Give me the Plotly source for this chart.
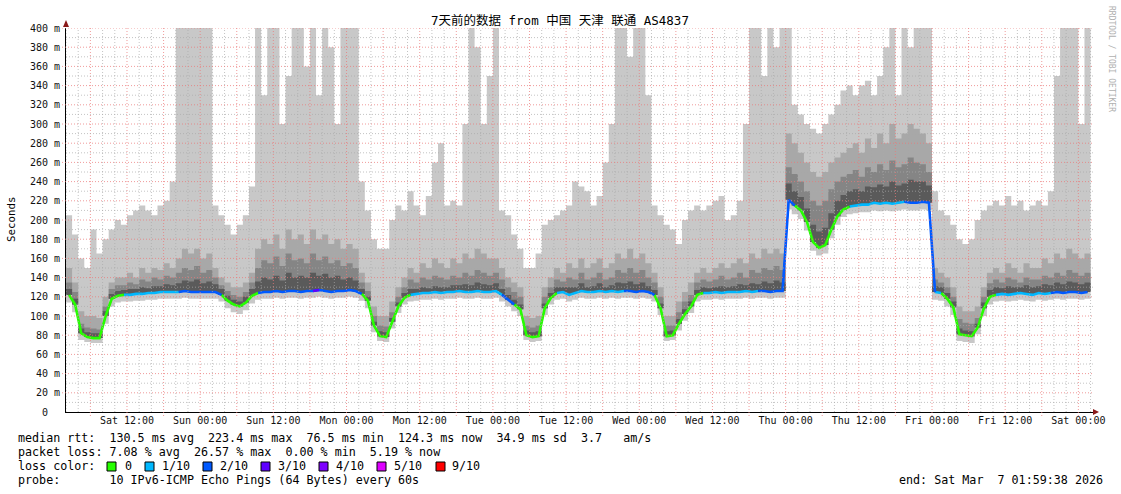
import plotly.graph_objects as go

# ---------------- data (hourly, starting Sat Feb 28 02:00) ----------------
hours = list(range(168))

median_rtt = [
    122, 112, 82, 78, 77, 77, 100, 118, 121, 122,
    122, 123, 123, 124, 124, 125, 125, 125, 125, 126,
    125, 125, 125, 125, 125, 122, 116, 112, 110, 114,
    121, 124, 125, 125, 126, 125, 126, 126, 125, 126,
    126, 127, 126, 125, 126, 126, 127, 126, 123, 116,
    90, 79, 78, 94, 110, 119, 122, 123, 124, 124,
    125, 124, 125, 125, 126, 125, 125, 126, 125, 125,
    126, 122, 117, 112, 107, 80, 78, 79, 108, 119,
    124, 125, 122, 124, 126, 125, 125, 126, 125, 126,
    125, 126, 126, 125, 126, 125, 122, 108, 79, 80,
    92, 102, 110, 122, 124, 124, 125, 124, 125, 125,
    125, 126, 125, 126, 126, 125, 126, 126, 221, 215,
    210, 198, 177, 171, 174, 190, 204, 211, 214, 215,
    216, 216, 218, 217, 218, 217, 218, 219, 218, 218,
    219, 218, 125, 124, 118, 109, 81, 80, 79, 88,
    108, 120, 122, 123, 122, 123, 124, 123, 122, 124,
    123, 124, 125, 124, 125, 125, 124, 125,
]

rtt_min = [
    114, 104, 75, 73, 72, 72, 92, 110, 114, 115,
    115, 116, 116, 117, 117, 118, 118, 118, 118, 119,
    118, 118, 118, 118, 118, 115, 108, 104, 102, 106,
    113, 117, 118, 118, 119, 118, 119, 119, 118, 119,
    119, 120, 119, 118, 119, 119, 120, 119, 116, 108,
    83, 74, 73, 87, 103, 112, 115, 116, 117, 117,
    118, 117, 118, 118, 119, 118, 118, 119, 118, 118,
    119, 115, 110, 105, 100, 75, 73, 74, 101, 112,
    117, 118, 115, 117, 119, 118, 118, 119, 118, 119,
    118, 119, 119, 118, 119, 118, 115, 101, 74, 75,
    85, 95, 103, 115, 117, 117, 118, 117, 118, 118,
    118, 119, 118, 119, 119, 118, 119, 119, 211, 206,
    201, 189, 168, 163, 165, 181, 195, 203, 206, 207,
    208, 208, 210, 209, 210, 209, 210, 211, 210, 210,
    211, 210, 117, 116, 110, 101, 74, 73, 72, 81,
    100, 112, 115, 116, 115, 116, 117, 116, 115, 117,
    116, 117, 118, 117, 118, 118, 117, 118,
]

rtt_max = [
    205, 185, 160, 150, 190, 165, 180, 190, 200, 195,
    205, 210, 215, 210, 205, 215, 220, 240, 400, 400,
    400, 400, 400, 400, 215, 205, 195, 185, 195, 205,
    235, 400, 330, 400, 400, 300, 350, 400, 400, 360,
    400, 330, 400, 380, 300, 400, 400, 400, 240, 210,
    180, 170, 170, 200, 215, 210, 230, 215, 205, 225,
    260, 280, 215, 220, 215, 300, 400, 380, 300, 350,
    400, 210, 205, 185, 170, 150, 150, 165, 195, 200,
    205, 210, 215, 240, 235, 230, 215, 225, 260, 300,
    400, 400, 370, 400, 400, 330, 215, 205, 195, 190,
    175, 200, 210, 215, 210, 215, 220, 225, 200, 205,
    220, 300, 400, 400, 350, 400, 380, 400, 400, 320,
    310, 300, 295, 290, 300, 310, 320, 335, 340, 330,
    340, 345, 330, 350, 380, 400, 330, 400, 380, 400,
    400, 400, 230, 210, 205, 195, 180, 175, 180, 200,
    210, 215, 220, 215, 225, 215, 220, 210, 215, 220,
    215, 230, 350, 400, 400, 400, 300, 400,
]

rtt_p9 = [
    150, 135, 105, 100, 100, 98, 120, 135, 140, 140,
    145, 140, 150, 145, 150, 148, 155, 150, 160, 170,
    165, 170, 160, 165, 150, 140, 135, 130, 130, 135,
    145, 170, 180, 175, 185, 170, 190, 180, 185, 175,
    190, 180, 185, 175, 180, 170, 175, 170, 145, 135,
    110, 100, 100, 115, 130, 140, 150, 145, 155, 150,
    160, 155, 150, 160, 155, 165, 160, 170, 165, 160,
    160, 150, 140, 135, 130, 100, 98, 100, 130, 140,
    150, 145, 155, 150, 160, 150, 155, 160, 150, 155,
    165, 160, 170, 160, 165, 155, 145, 130, 100, 100,
    115, 125, 135, 145, 150, 145, 150, 155, 150, 155,
    160, 155, 165, 160, 170, 165, 170, 165, 290, 280,
    270, 260, 250, 245, 250, 260, 265, 270, 275, 280,
    270, 285, 275, 290, 280, 300, 285, 290, 300, 295,
    290, 280, 150, 145, 140, 130, 110, 105, 105, 110,
    130, 145, 150, 145, 155, 150, 145, 155, 150, 150,
    160, 155, 165, 160, 170, 165, 160, 165,
]

rtt_p8 = [
    135, 125, 92, 88, 87, 86, 110, 128, 132, 132,
    135, 133, 138, 136, 140, 138, 142, 140, 145, 150,
    148, 152, 145, 148, 140, 132, 126, 122, 120, 125,
    135, 150, 158, 155, 162, 152, 165, 158, 160, 155,
    165, 158, 162, 155, 158, 152, 155, 150, 135, 126,
    100, 90, 89, 104, 120, 130, 138, 135, 140, 138,
    142, 140, 138, 142, 140, 145, 142, 148, 145, 142,
    145, 138, 130, 125, 120, 90, 88, 90, 120, 130,
    138, 136, 140, 138, 145, 138, 140, 145, 138, 140,
    148, 145, 150, 145, 148, 140, 135, 120, 90, 90,
    104, 115, 122, 135, 138, 136, 138, 142, 138, 140,
    145, 140, 148, 145, 150, 148, 152, 148, 255, 248,
    240, 230, 220, 215, 220, 232, 240, 245, 248, 252,
    245, 255, 250, 258, 252, 262, 255, 258, 265, 260,
    258, 250, 138, 135, 130, 120, 97, 93, 92, 98,
    120, 134, 138, 135, 140, 138, 135, 140, 138, 138,
    142, 140, 145, 142, 148, 145, 142, 145,
]

rtt_p7 = [
    128, 118, 87, 83, 82, 82, 105, 123, 126, 127,
    128, 128, 130, 129, 131, 131, 133, 132, 134, 137,
    136, 138, 134, 136, 133, 128, 121, 117, 115, 120,
    128, 136, 140, 138, 142, 137, 145, 140, 142, 140,
    145, 142, 144, 140, 142, 138, 140, 137, 128, 120,
    94, 84, 83, 98, 114, 124, 128, 128, 130, 129,
    131, 130, 130, 132, 132, 133, 132, 135, 133, 132,
    134, 128, 122, 117, 112, 85, 83, 84, 113, 124,
    130, 130, 130, 130, 134, 130, 131, 134, 130, 132,
    135, 134, 136, 133, 135, 131, 127, 113, 84, 85,
    97, 107, 115, 127, 130, 129, 130, 131, 130, 131,
    133, 132, 134, 133, 136, 134, 137, 135, 238, 230,
    224, 212, 195, 188, 192, 207, 220, 226, 230, 232,
    230, 235, 234, 237, 235, 240, 236, 238, 242, 240,
    240, 236, 131, 130, 124, 115, 87, 85, 84, 92,
    114, 127, 130, 129, 131, 130, 130, 132, 130, 131,
    133, 132, 135, 133, 136, 135, 133, 135,
]

# packet loss per hour, in tenths
loss_tenths = [
    0, 0, 0, 0, 0, 0, 0, 0, 0, 1,
    1, 1, 1, 1, 1, 1, 1, 1, 2, 2,
    2, 2, 2, 2, 2, 0, 0, 0, 0, 0,
    0, 2, 2, 2, 2, 2, 2, 2, 2, 2,
    3, 2, 2, 2, 2, 2, 2, 2, 0, 0,
    0, 0, 0, 0, 0, 0, 1, 1, 1, 1,
    1, 1, 1, 1, 1, 1, 1, 1, 1, 1,
    1, 2, 2, 0, 0, 0, 0, 0, 0, 0,
    1, 1, 1, 1, 1, 1, 1, 1, 1, 1,
    1, 2, 2, 2, 2, 2, 0, 0, 0, 0,
    0, 0, 0, 0, 1, 1, 1, 1, 1, 1,
    1, 1, 1, 2, 2, 2, 2, 2, 2, 0,
    0, 0, 0, 0, 0, 0, 0, 0, 1, 1,
    1, 1, 1, 1, 1, 1, 1, 2, 2, 2,
    2, 2, 1, 0, 0, 0, 0, 0, 0, 0,
    0, 0, 1, 1, 1, 1, 1, 1, 1, 1,
    1, 2, 2, 2, 2, 2, 2, 2,
]

x_tick_hours = [10, 22, 34, 46, 58, 70, 82, 94, 106, 118, 130, 142, 154, 166]
x_tick_labels = ["Sat 12:00", "Sun 00:00", "Sun 12:00", "Mon 00:00", "Mon 12:00",
                 "Tue 00:00", "Tue 12:00", "Wed 00:00", "Wed 12:00", "Thu 00:00",
                 "Thu 12:00", "Fri 00:00", "Fri 12:00", "Sat 00:00"]
y_tick_vals = list(range(0, 401, 20))
y_tick_labels = ["0\u00a0\u00a0"] + [f"{v}\u00a0m" for v in y_tick_vals[1:]]

loss_levels = [0, 1, 2, 3, 4, 5, 9]
loss_labels = ["0", "1/10", "2/10", "3/10", "4/10", "5/10", "9/10"]
loss_colors = ["#26ff00", "#00b8ff", "#0059ff", "#5e00ff", "#7e00ff", "#dd00ff", "#ff0000"]

title_text = "7天前的数据 from 中国 天津 联通 AS4837"
stat_rtt = "median rtt:  130.5 ms avg  223.4 ms max  76.5 ms min  124.3 ms now  34.9 ms sd  3.7   am/s"
stat_loss = "packet loss: 7.08 % avg  26.57 % max  0.00 % min  5.19 % now"
probe_text = "probe:       10 IPv6-ICMP Echo Pings (64 Bytes) every 60s"
end_text = "end: Sat Mar  7 01:59:38 2026"

# ---------------- layout geometry ----------------
W, H = 1121, 494
L, R, T, B = 66, 28, 28, 82
PW, PH = W - L - R, H - T - B
XMAX = 168.4


def px(x):
    return (x - L) / PW


def py(y):
    return (H - B - y) / PH


def nb(s):
    return s.replace(" ", "\u00a0")


MONO = "DejaVu Sans Mono, Noto Sans CJK SC, monospace"
LEG_FONT = 11.7

fig = go.Figure()

# each hourly sample covers [h, h+1): step edges for the smoke, centre for the median line
step_x = hours + [hours[-1] + 1]
mid_x = [h + 0.5 for h in hours]


def band(lower, upper, color):
    fig.add_trace(go.Scatter(x=step_x, y=lower + [lower[-1]], mode="lines",
                             line=dict(width=0, shape="hv"), hoverinfo="skip", showlegend=False))
    fig.add_trace(go.Scatter(x=step_x, y=upper + [upper[-1]], mode="lines",
                             line=dict(width=0, shape="hv"), fill="tonexty", fillcolor=color,
                             hoverinfo="skip", showlegend=False))


band(rtt_min, rtt_max, "#c8c8c8")
band(median_rtt, rtt_p9, "#a8a8a8")
band(median_rtt, rtt_p8, "#858585")
band(median_rtt, rtt_p7, "#5a5a5a")

fig.add_trace(go.Scatter(x=mid_x, y=median_rtt, mode="lines", line=dict(color="#111111", width=1.2),
                         hoverinfo="skip", showlegend=False))

for lvl, col in zip(loss_levels, loss_colors):
    ys = []
    for i, v in enumerate(median_rtt):
        if loss_tenths[i] == lvl or (i > 0 and loss_tenths[i - 1] == lvl):
            ys.append(v)
        else:
            ys.append(None)
    if any(v is not None for v in ys):
        fig.add_trace(go.Scatter(x=mid_x, y=ys, mode="lines", line=dict(color=col, width=2.6),
                                 connectgaps=False, hoverinfo="skip", showlegend=False))

# ---------------- grid (drawn above the smoke, as rrdtool does) ----------------
shapes = []
MAJ = "rgba(235,120,120,0.75)"
MIN = "rgba(170,170,170,0.7)"
for h in range(0, 169, 2):
    major = (h % 6) == 4
    shapes.append(dict(type="line", xref="x", yref="paper", x0=h, x1=h,
                       y0=(-4 / PH if major else 0), y1=1,
                       line=dict(color=MAJ if major else MIN, width=1, dash="1px,2px"), layer="above"))
for v in range(10, 401, 10):
    major = (v % 20) == 0
    shapes.append(dict(type="line", xref="paper", yref="y", x0=(-4 / PW if major else 0), x1=1, y0=v, y1=v,
                       line=dict(color=MAJ if major else MIN, width=1, dash="1px,2px"), layer="above"))

# axis arrows
shapes.append(dict(type="path", xref="paper", yref="paper",
                   path=f"M {px(63)} {py(27)} L {px(69)} {py(27)} L {px(66)} {py(20)} Z",
                   fillcolor="#8b1a1a", line=dict(width=0), layer="above"))
shapes.append(dict(type="path", xref="paper", yref="paper",
                   path=f"M {px(1093)} {py(409)} L {px(1093)} {py(415)} L {px(1099)} {py(412)} Z",
                   fillcolor="#8b1a1a", line=dict(width=0), layer="above"))

# loss colour boxes
box_x = [107, 145, 203, 261, 319, 377, 436]
lab_x = [123, 160, 218, 276, 334, 392, 450]
for bx, col in zip(box_x, loss_colors):
    shapes.append(dict(type="rect", xref="paper", yref="paper",
                       x0=px(bx), x1=px(bx + 9), y0=py(471), y1=py(462),
                       fillcolor=col, line=dict(color="#000000", width=1), layer="above"))

ann = []
ann.append(dict(text=title_text, x=px(560), y=py(21), xref="paper", yref="paper", showarrow=False,
                xanchor="center", yanchor="middle", font=dict(family=MONO, size=12.5, color="#000")))
ann.append(dict(text="Seconds", x=px(11), y=py(219), xref="paper", yref="paper", showarrow=False,
                textangle=-90, xanchor="center", yanchor="middle",
                font=dict(family=MONO, size=10.8, color="#000")))
ann.append(dict(text=nb("RRDTOOL / TOBI OETIKER"), x=px(1111), y=py(59), xref="paper", yref="paper",
                showarrow=False, textangle=90, xanchor="center", yanchor="middle",
                font=dict(family=MONO, size=8, color="#b0b0b0")))
for txt, yy in [(stat_rtt, 438), (stat_loss, 452), ("loss color:", 466), (probe_text, 480)]:
    ann.append(dict(text=nb(txt), x=px(16), y=py(yy), xref="paper", yref="paper", showarrow=False,
                    xanchor="left", yanchor="middle", font=dict(family=MONO, size=LEG_FONT, color="#000")))
for lx, lab in zip(lab_x, loss_labels):
    ann.append(dict(text=lab, x=px(lx), y=py(466), xref="paper", yref="paper", showarrow=False,
                    xanchor="left", yanchor="middle", font=dict(family=MONO, size=LEG_FONT, color="#000")))
ann.append(dict(text=nb(end_text), x=px(1105), y=py(480), xref="paper", yref="paper", showarrow=False,
                xanchor="right", yanchor="middle", font=dict(family=MONO, size=LEG_FONT, color="#000")))

fig.update_layout(
    width=W, height=H,
    margin=dict(l=L, r=R, t=T, b=B, pad=0),
    paper_bgcolor="#ffffff", plot_bgcolor="#ffffff",
    showlegend=False,
    shapes=shapes, annotations=ann,
    xaxis=dict(range=[0, XMAX], tickvals=x_tick_hours, ticktext=x_tick_labels,
               showgrid=False, zeroline=False, showline=True, linecolor="#000", linewidth=1,
               ticks="", ticklabelstandoff=-1,
               tickfont=dict(family=MONO, size=10, color="#111"), layer="above traces"),
    yaxis=dict(range=[0, 400], tickvals=y_tick_vals, ticktext=y_tick_labels,
               showgrid=False, zeroline=False, showline=True, linecolor="#000", linewidth=1,
               ticks="", ticklabelstandoff=3,
               tickfont=dict(family=MONO, size=10, color="#111"), layer="above traces"),
)

fig.write_html("out.html", config={"displayModeBar": False},
               post_script="document.body.style.margin='0px';")
